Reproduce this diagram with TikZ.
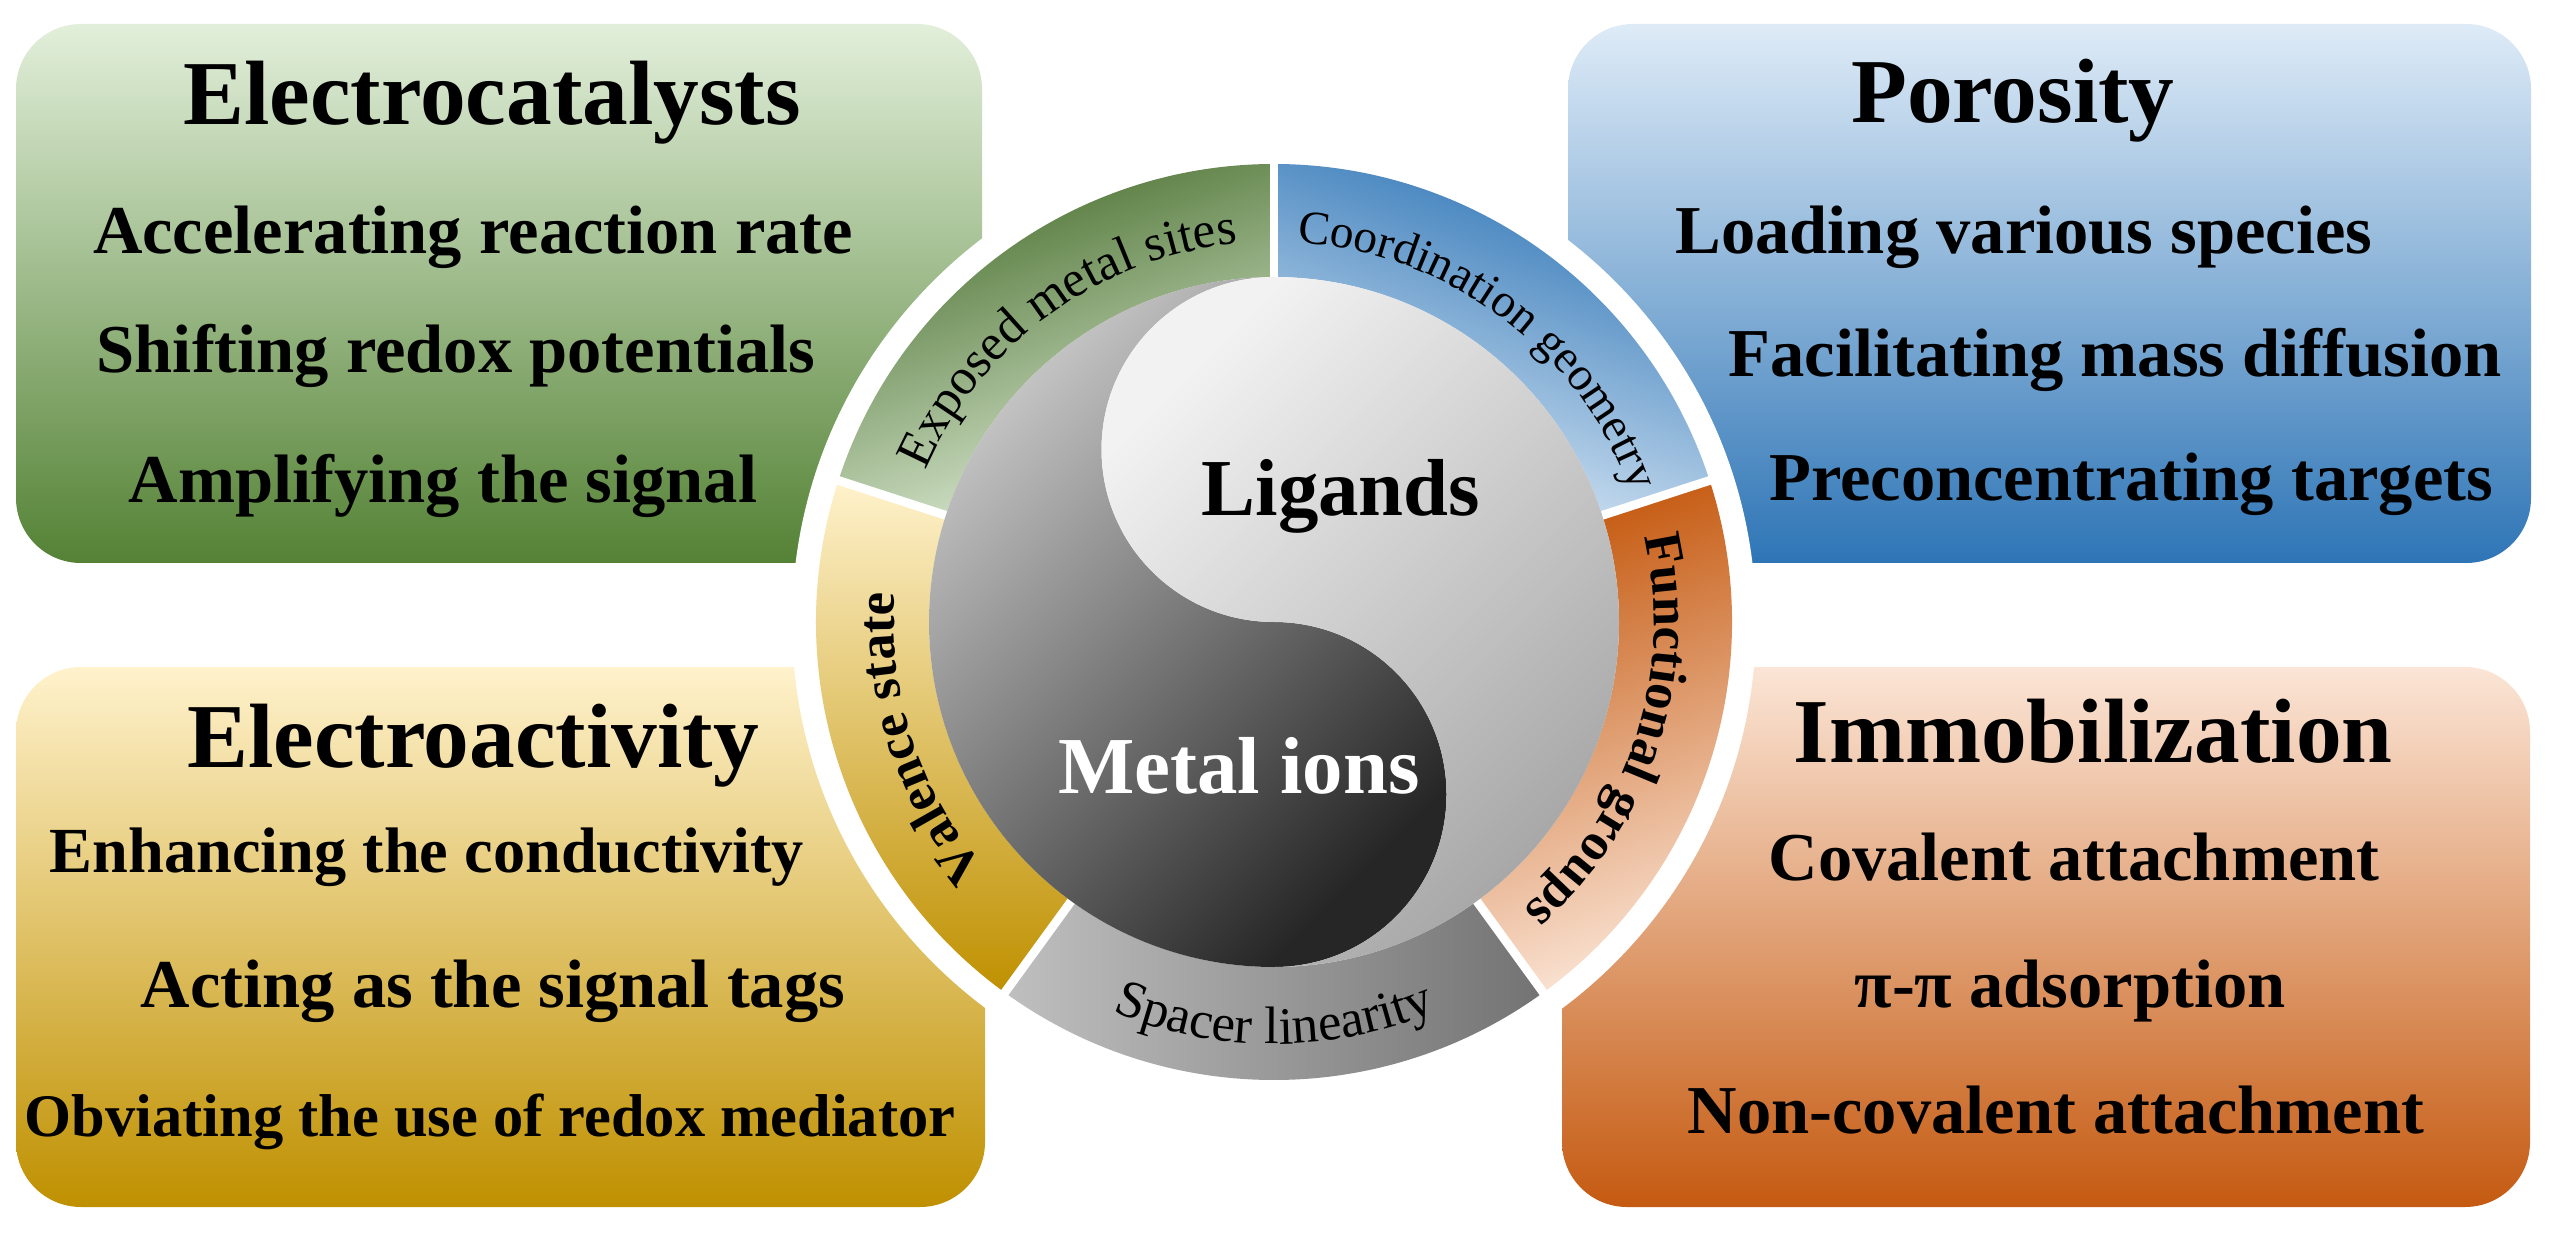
\documentclass[tikz,border=0pt]{standalone}
\usepackage{fontspec}
\setmainfont{Liberation Serif}
\usetikzlibrary{decorations.text}
\definecolor{gA}{HTML}{E2EFDA}\definecolor{gB}{HTML}{548235}
\definecolor{bA}{HTML}{DEEBF7}\definecolor{bB}{HTML}{2E75B6}
\definecolor{yA}{HTML}{FFF2CC}\definecolor{yB}{HTML}{BF9000}
\definecolor{oA}{HTML}{FBE5D6}\definecolor{oB}{HTML}{C55A11}
\tikzset{
 card/.style={rounded corners=0.65cm},
 ttl/.style={font=\fontsize{26}{28}\selectfont\bfseries},
 itm/.style={font=\fontsize{19.5}{22}\selectfont\bfseries},
 core/.style={font=\fontsize{23}{25}\selectfont\bfseries}
}
\newcommand{\ringseg}[4]{% a1 a2 (a1>a2), shading options
 \shade[#3] (#1:4.58) arc[start angle=#1,end angle=#2,radius=4.58] -- (#2:3.45) arc[start angle=#2,end angle=#1,radius=3.45] -- cycle;}
\begin{document}
\begin{tikzpicture}
\useasboundingbox (0,0) rectangle (25.49,12.32);
% cards
\shade[card,top color=gA,bottom color=gB] (0.16,6.69) rectangle (9.82,12.08);
\shade[card,top color=bA,bottom color=bB] (15.68,6.69) rectangle (25.31,12.08);
\shade[card,top color=yA,bottom color=yB] (0.16,0.25) rectangle (9.85,5.65);
\shade[card,top color=oA,bottom color=oB] (15.62,0.25) rectangle (25.30,5.65);
% texts
\node[ttl] (t1) at (4.92,11.29) {Electrocatalysts};
\node[itm] (a1) at (4.73,9.95) {Accelerating reaction rate};
\node[itm] (a2) at (4.56,8.76) {Shifting redox potentials};
\node[itm] (a3) at (4.43,7.46) {Amplifying the signal};
\node[ttl] (t2) at (20.13,11.31) {Porosity};
\node[itm] (b1) at (20.24,9.95) {Loading various species};
\node[itm] (b2) at (21.15,8.72) {Facilitating mass diffusion};
\node[itm] (b3) at (21.31,7.48) {Preconcentrating targets};
\node[ttl] (t3) at (4.73,4.86) {Electroactivity};
\node[itm,font=\fontsize{18.3}{22}\selectfont\bfseries] (c1) at (4.27,3.75) {Enhancing the conductivity};
\node[itm] (c2) at (4.93,2.41) {Acting as the signal tags};
\node[itm,font=\fontsize{17.2}{22}\selectfont\bfseries] (c3) at (4.90,1.10) {Obviating the use of redox mediator};
\node[ttl] (t4) at (20.93,5.01) {Immobilization};
\node[itm] (d1) at (20.74,3.75) {Covalent attachment};
\node[itm] (d2) at (20.70,2.41) {π-π adsorption};
\node[itm] (d3) at (20.56,1.22) {Non-covalent attachment};
% ring
\begin{scope}[shift={(12.74,6.10)}]
\fill[white] (0,0) circle (4.82);
\ringseg{162}{90}{left color=gB!85!black,right color=gA,shading angle=20}{}
\ringseg{90}{18}{left color=bB,right color=bA,shading angle=-20}{}
\ringseg{18}{-54}{top color=oB,bottom color=oA,shading angle=20}{}
\ringseg{-54}{-126}{left color=black!25,right color=black!55}{}
\ringseg{234}{162}{top color=yA,bottom color=yB}{}
\foreach \a in {90,162,234,306,18} \draw[white,line width=2.5pt] (\a:3.3) -- (\a:4.7);
% yin-yang
\shade[top color=black!22,bottom color=black!85,shading angle=45]
 (0,3.45) arc[start angle=90,end angle=270,radius=1.725] arc[start angle=90,end angle=-90,radius=1.725] arc[start angle=-90,end angle=-270,radius=3.45] -- cycle;
\shade[top color=black!5,bottom color=black!35,shading angle=45]
 (0,3.45) arc[start angle=90,end angle=270,radius=1.725] arc[start angle=90,end angle=-90,radius=1.725] arc[start angle=-90,end angle=90,radius=3.45] -- cycle;
\node[core] (lig) at (0.67,1.26) {Ligands};
\node[core,text=white] (met) at (-0.35,-1.44) {Metal ions};
% ring texts
\path[decorate,decoration={text along path,text align=center,text={|\fontsize{14.5}{15}\selectfont|Exposed metal sites}}] (161:3.8) arc[start angle=161,end angle=91,radius=3.8];
\path[decorate,decoration={text along path,text align=center,text={|\fontsize{13.5}{15}\selectfont|Coordination geometry}}] (89.5:3.8) arc[start angle=89.5,end angle=17,radius=3.8];
\path[decorate,decoration={text along path,text align=center,text={|\fontsize{15}{15}\selectfont\bfseries|Functional groups}}] (16:3.8) arc[start angle=16,end angle=-52,radius=3.8];
\path[decorate,decoration={text along path,text align=center,text={|\fontsize{15}{15}\selectfont\bfseries|Valence state}}] (232:3.8) arc[start angle=232,end angle=164,radius=3.8];
\path[decorate,decoration={text along path,text align=center,text={|\fontsize{15}{15}\selectfont|Spacer linearity}}] (236:4.22) arc[start angle=236,end angle=304,radius=4.22];
\end{scope}
\end{tikzpicture}
\end{document}
